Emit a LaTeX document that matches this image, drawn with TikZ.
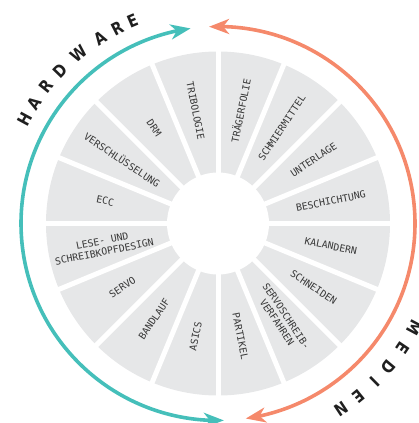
\documentclass[tikz,border=0pt]{standalone}
\usepackage{fontspec}
\setmainfont{DejaVu Sans}
\newfontfamily\lblfont{DejaVu Sans Mono}
\newfontfamily\bigfont[FakeStretch=0.85]{DejaVu Sans}
\usetikzlibrary{arrows.meta,bending}
\definecolor{hwteal}{HTML}{45BFBA}
\definecolor{mdorange}{HTML}{F5896B}
\definecolor{wheelgray}{HTML}{E6E7E8}
\definecolor{labelgray}{HTML}{383838}
\tikzset{
  seglabel/.style={font=\lblfont\fontsize{9.8}{11.2}\selectfont, text=labelgray, align=center, inner sep=0pt},
  bigletter/.style={font=\bigfont\bfseries\fontsize{17}{17}\selectfont, text=black!88, inner sep=0pt},
  ringarrow/.style={line width=3.6pt, {Stealth[length=20pt,width=15pt,inset=6pt]}-{Stealth[length=20pt,width=15pt,inset=6pt]}},
  gapline/.style={white, line width=5pt}
}
\begin{document}
\begin{tikzpicture}[x=1pt,y=1pt]
\useasboundingbox (0,-423) rectangle (419,0);
\begin{scope}[shift={(218,-223.5)}]
  \fill[wheelgray] (0,0) circle (172);
  \foreach \a in {0,22.5,...,337.5} \draw[gapline] (0,0) -- (\a:176);
  \fill[white] (0,0) circle (51);
  % segment labels
  \node[seglabel, rotate=-78.75] (l1) at (101.25:115) {TRIBOLOGIE};
  \node[seglabel, rotate=78.75] (l2) at (78.75:115) {TRÄGERFOLIE};
  \node[seglabel, rotate=56.25] (l3) at (56.25:115) {SCHMIERMITTEL};
  \node[seglabel, rotate=33.75] (l4) at (33.75:115) {UNTERLAGE};
  \node[seglabel, rotate=11.25] (l5) at (11.25:115) {BESCHICHTUNG};
  \node[seglabel, rotate=-11.25] (l6) at (-11.25:115) {KALANDERN};
  \node[seglabel, rotate=-33.75] (l7) at (-33.75:115) {SCHNEIDEN};
  \node[seglabel, rotate=-56.25] (l8) at (-56.25:115) {SERVOSCHREIB-\\VERFAHREN};
  \node[seglabel, rotate=-78.75] (l9) at (-78.75:115) {PARTIKEL};
  \node[seglabel, rotate=78.75] (l10) at (-101.25:115) {ASICS};
  \node[seglabel, rotate=56.25] (l11) at (-123.75:115) {BANDLAUF};
  \node[seglabel, rotate=33.75] (l12) at (-146.25:115) {SERVO};
  \node[seglabel, rotate=11.25] (l13) at (-168.75:117) {LESE- UND\\SCHREIBKOPFDESIGN};
  \node[seglabel, rotate=-11.25] (l14) at (168.75:115) {ECC};
  \node[seglabel, rotate=-33.75] (l15) at (146.25:115) {VERSCHLÜSSELUNG};
  \node[seglabel, rotate=-56.25] (l16) at (123.75:115) {DRM};
  % ring arrows
  \coordinate (hwstart) at (271.7:197);
  \coordinate (mdstart) at (92.6:197);
  \draw[ringarrow, draw=hwteal] (hwstart) arc[start angle=271.7, end angle=98, radius=197];
  \draw[ringarrow, draw=mdorange] (mdstart) arc[start angle=92.6, end angle=-81.9, radius=197];
  % HARDWARE
  \foreach \ch/\ang [count=\i] in {H/151.5, A/146.9, R/141.4, D/135.8, W/129.3, A/122.5, R/117.3, E/112.9}
    \node[bigletter, rotate=\ang-90] (hw\i) at (\ang:219.5) {\ch};
  % MEDIEN
  \foreach \ch/\ang [count=\i] in {M/-28, E/-34, D/-40, I/-45.3, E/-50.8, N/-56.5}
    \node[bigletter, rotate=\ang-90] (md\i) at (\ang:223) {\ch};
\end{scope}
\end{tikzpicture}
\end{document}
